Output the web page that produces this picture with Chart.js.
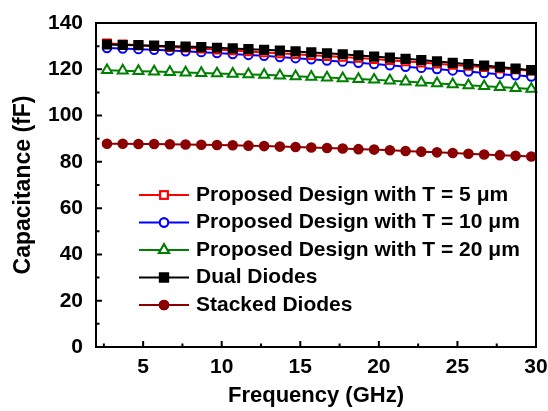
<!DOCTYPE html>
<html>
<head>
<meta charset="utf-8">
<script src="https://cdn.jsdelivr.net/npm/chart.js@4.4.1/dist/chart.umd.min.js"></script>
<style>
  html, body { margin: 0; padding: 0; background: #fff; }
  #wrap { width: 548px; height: 411px; }
</style>
</head>
<body>
<div id="wrap"><canvas id="capChart" width="548" height="411"></canvas></div>
<script>
// frequency points (GHz)
var freq = [2.7, 3.7, 4.7, 5.7, 6.7, 7.7, 8.7, 9.7, 10.7, 11.7, 12.7, 13.7, 14.7, 15.7,
            16.7, 17.7, 18.7, 19.7, 20.7, 21.7, 22.7, 23.7, 24.7, 25.7, 26.7, 27.7, 28.7, 29.7];

// capacitance (fF)
var proposed5 = [131.2, 130.8, 130.4, 130.0, 129.6, 129.3, 128.9, 128.5, 128.1, 127.7, 127.3, 126.9, 126.5, 126.1,
                 125.7, 125.3, 124.9, 124.4, 123.9, 123.4, 122.9, 122.4, 121.9, 121.4, 120.9, 120.4, 119.9, 119.4];
var proposed10 = [129.2, 129.0, 128.7, 128.4, 128.1, 127.8, 127.4, 127.0, 126.6, 126.2, 125.8, 125.3, 124.8, 124.3,
                  123.8, 123.3, 122.8, 122.3, 121.7, 121.1, 120.6, 120.1, 119.5, 119.0, 118.4, 117.9, 117.4, 116.9];
var proposed20 = [119.6, 119.4, 119.2, 119.0, 118.8, 118.6, 118.4, 118.2, 118.0, 117.8, 117.6, 117.3, 117.0, 116.7,
                  116.4, 116.1, 115.8, 115.5, 115.1, 114.7, 114.3, 113.9, 113.5, 113.1, 112.7, 112.3, 111.9, 111.5];
var dualDiodes = [130.7, 130.5, 130.4, 130.2, 130.0, 129.8, 129.6, 129.3, 129.0, 128.7, 128.4, 128.1, 127.7, 127.3,
                  126.9, 126.5, 126.0, 125.5, 125.0, 124.5, 124.0, 123.4, 122.8, 122.2, 121.6, 121.0, 120.3, 119.6];
var stackedDiodes = [87.8, 87.8, 87.7, 87.7, 87.6, 87.5, 87.4, 87.3, 87.2, 87.0, 86.8, 86.6, 86.4, 86.2,
                     86.0, 85.8, 85.5, 85.3, 85.0, 84.7, 84.4, 84.1, 83.8, 83.5, 83.2, 82.9, 82.6, 82.3];

var xTicks = [5, 10, 15, 20, 25, 30];
var xMinor = [2.5, 7.5, 12.5, 17.5, 22.5, 27.5];
var yTicks = [0, 20, 40, 60, 80, 100, 120, 140];
var yMinor = [10, 30, 50, 70, 90, 110, 130];

var FONT = "'Liberation Sans', Arial, sans-serif";

function pts(ys) {
  return ys.map(function(y, i) { return { x: freq[i], y: y }; });
}

function series(label, ys, color, style, fill, radius, order) {
  return {
    label: label,
    data: pts(ys),
    borderColor: color,
    backgroundColor: fill,
    borderWidth: 2,
    pointStyle: style,
    pointRadius: radius,
    pointBorderWidth: 2,
    pointBorderColor: color,
    pointBackgroundColor: fill,
    order: order,
    clip: 6
  };
}

var datasets = [
  series('Proposed Design with T = 5 \u03bcm', proposed5, '#ff0000', 'rect', '#ffffff', 5.4, 2),
  series('Proposed Design with T = 10 \u03bcm', proposed10, '#0000ff', 'circle', '#ffffff', 4.2, 3),
  series('Proposed Design with T = 20 \u03bcm', proposed20, '#008000', 'triangle', '#ffffff', 5.8, 4),
  series('Dual Diodes', dualDiodes, '#000000', 'rect', '#000000', 5.8, 1),
  series('Stacked Diodes', stackedDiodes, '#8b0000', 'circle', '#8b0000', 4.3, 5)
];

// draws the box, the inward ticks and the legend
var framePlugin = {
  id: 'frame',
  afterDraw: function(chart) {
    var ctx = chart.ctx;
    var a = chart.chartArea;
    var xs = chart.scales.x, ys = chart.scales.y;
    ctx.save();
    ctx.strokeStyle = '#000';
    ctx.lineWidth = 2;
    ctx.strokeRect(a.left, a.top, a.right - a.left, a.bottom - a.top);

    ctx.beginPath();
    xTicks.forEach(function(v) {
      var px = xs.getPixelForValue(v);
      ctx.moveTo(px, a.bottom); ctx.lineTo(px, a.bottom - 6);
    });
    xMinor.forEach(function(v) {
      var px = xs.getPixelForValue(v);
      ctx.moveTo(px, a.bottom); ctx.lineTo(px, a.bottom - 3.5);
    });
    yTicks.forEach(function(v) {
      var py = ys.getPixelForValue(v);
      ctx.moveTo(a.left, py); ctx.lineTo(a.left + 6, py);
    });
    yMinor.forEach(function(v) {
      var py = ys.getPixelForValue(v);
      ctx.moveTo(a.left, py); ctx.lineTo(a.left + 3.5, py);
    });
    ctx.stroke();

    // legend
    var x0 = 139, x1 = 189, tx = 196, y0 = 195, dy = 27.5;
    ctx.font = 'bold 21px ' + FONT;
    ctx.textBaseline = 'middle';
    ctx.textAlign = 'left';
    chart.data.datasets.forEach(function(ds, i) {
      var y = y0 + i * dy;
      ctx.strokeStyle = ds.borderColor;
      ctx.lineWidth = 2;
      ctx.beginPath();
      ctx.moveTo(x0, y); ctx.lineTo(x1, y);
      ctx.stroke();
      ctx.lineWidth = ds.pointBorderWidth;
      Chart.helpers.drawPoint(ctx, {
        pointStyle: ds.pointStyle,
        radius: ds.pointRadius,
        borderWidth: ds.pointBorderWidth
      }, (x0 + x1) / 2, y);
      ctx.fillStyle = ds.pointBackgroundColor;
      ctx.fill();
      ctx.stroke();
      ctx.fillStyle = '#000';
      ctx.fillText(ds.label, tx, y);
    });
    ctx.restore();
  }
};

new Chart(document.getElementById('capChart').getContext('2d'), {
  type: 'line',
  data: { datasets: datasets },
  plugins: [framePlugin],
  options: {
    responsive: false,
    animation: false,
    layout: { padding: { top: 23, right: 12, left: 0, bottom: 0 } },
    plugins: { legend: { display: false }, tooltip: { enabled: false } },
    scales: {
      x: {
        type: 'linear',
        min: 2, max: 30,
        grid: { display: false, drawTicks: false },
        border: { display: false },
        afterBuildTicks: function(scale) {
          scale.ticks = xTicks.map(function(v) { return { value: v }; });
        },
        afterFit: function(scale) {
          scale.height = 64;
          scale.paddingLeft = 0;
          scale.paddingRight = 0;
        },
        ticks: {
          color: '#000',
          padding: 8,
          maxRotation: 0,
          font: { family: FONT, size: 21, weight: 'bold' }
        },
        title: {
          display: true,
          text: 'Frequency (GHz)',
          color: '#000',
          padding: { top: 0, bottom: 2 },
          font: { family: FONT, size: 22, weight: 'bold' }
        }
      },
      y: {
        min: 0, max: 140,
        grid: { display: false, drawTicks: false },
        border: { display: false },
        afterBuildTicks: function(scale) {
          scale.ticks = yTicks.map(function(v) { return { value: v }; });
        },
        afterFit: function(scale) {
          scale.width = 96;
          scale.paddingTop = 0;
          scale.paddingBottom = 0;
        },
        ticks: {
          color: '#000',
          padding: 13,
          font: { family: FONT, size: 21, weight: 'bold' }
        },
        title: {
          display: true,
          text: 'Capacitance (fF)',
          color: '#000',
          padding: { top: 10, bottom: 0 },
          font: { family: FONT, size: 23, weight: 'bold' }
        }
      }
    }
  }
});
</script>
</body>
</html>
